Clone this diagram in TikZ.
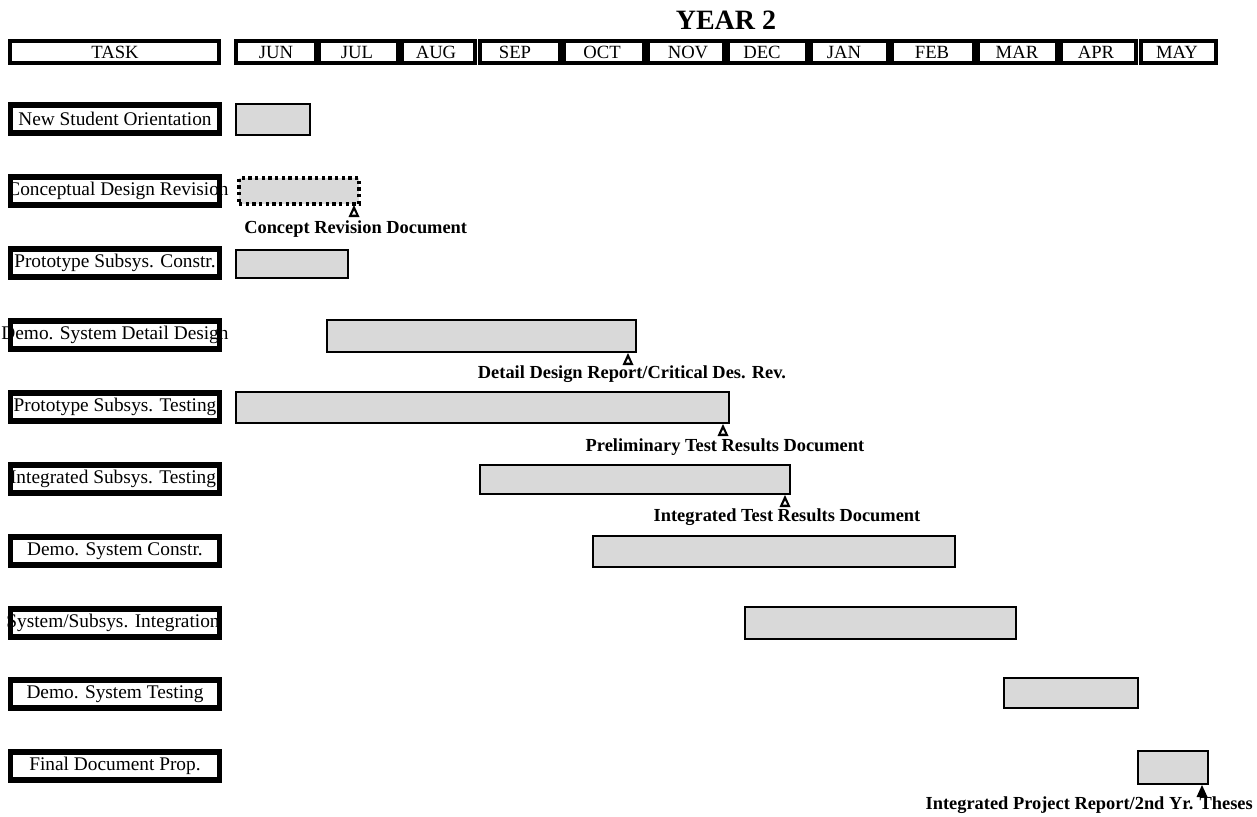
\documentclass[tikz,border=0pt]{standalone}
\usepackage{fontspec}
\setmainfont{Liberation Serif}
\usetikzlibrary{calc}
\begin{document}
\begin{tikzpicture}[x=0.75pt,y=-0.75pt,
  hdrbox/.style={draw=black,line width=2.4pt},
  hdrsep/.style={draw=black,line width=5.5pt},
  hdrtext/.style={font=\fontsize{14}{14}\selectfont,inner sep=0pt},
  yeartext/.style={font=\fontsize{21}{21}\selectfont\bfseries,inner sep=0pt},
  taskfill/.style={fill=white,inner sep=0pt,outer sep=0pt,minimum width=209*0.75pt,minimum height=28*0.75pt},
  taskframe/.style={draw=black,line width=4.2pt},
  tasktext/.style={font=\fontsize{14.5}{14.5}\selectfont,inner sep=0pt},
  barst/.style={draw=black,fill=black!15,line width=2pt,inner sep=0pt,outer sep=0pt},
  dotbar/.style={draw=black,fill=black!15,line width=2.4pt,dash pattern=on 2.4pt off 2.6pt,inner sep=0pt,outer sep=0pt},
  mslabel/.style={font=\fontsize{13.8}{13.8}\selectfont\bfseries,inner sep=0pt}
]
\useasboundingbox (0,0) rectangle (1257,817);

% ---------- title ----------
\node[yeartext] (year) at (726,20) {YEAR 2};

% ---------- header row ----------
\def\hdrT{41}\def\hdrB{63}\def\hdrM{52}
\draw[hdrbox] (10,\hdrT) rectangle (219,\hdrB);
\node[hdrtext] (htask) at (115,\hdrM) {TASK};
\draw[hdrbox] (236,\hdrT) rectangle (316,\hdrB);
\draw[hdrbox] (319,\hdrT) rectangle (475,\hdrB);
\draw[hdrbox] (480,\hdrT) rectangle (724,\hdrB);
\draw[hdrbox] (728,\hdrT) rectangle (888,\hdrB);
\draw[hdrbox] (892,\hdrT) rectangle (1136,\hdrB);
\draw[hdrbox] (1141,\hdrT) rectangle (1216,\hdrB);
\draw[hdrsep] (400,\hdrT) -- (400,\hdrB);
\draw[hdrsep] (562,\hdrT) -- (562,\hdrB);
\draw[hdrsep] (646,\hdrT) -- (646,\hdrB);
\draw[hdrsep] (809,\hdrT) -- (809,\hdrB);
\draw[hdrsep] (976,\hdrT) -- (976,\hdrB);
\draw[hdrsep] (1059,\hdrT) -- (1059,\hdrB);
\node[hdrtext] (hjun) at (276,\hdrM) {JUN};
\node[hdrtext] (hjul) at (357,\hdrM) {JUL};
\node[hdrtext] (haug) at (436,\hdrM) {AUG};
\node[hdrtext] (hsep) at (515,\hdrM) {SEP};
\node[hdrtext] (hoct) at (602,\hdrM) {OCT};
\node[hdrtext] (hnov) at (688,\hdrM) {NOV};
\node[hdrtext] (hdec) at (762,\hdrM) {DEC};
\node[hdrtext] (hjan) at (844,\hdrM) {JAN};
\node[hdrtext] (hfeb) at (932,\hdrM) {FEB};
\node[hdrtext] (hmar) at (1017,\hdrM) {MAR};
\node[hdrtext] (hapr) at (1096,\hdrM) {APR};
\node[hdrtext] (hmay) at (1177,\hdrM) {MAY};

% ---------- task boxes ----------
\foreach \n/\yy/\dx/\txt in {
  1/119/0/{New Student Orientation},
  2/191/3/{Conceptual Design Revision},
  3/263/0/{Prototype Subsys. Constr.},
  4/335/0/{Demo. System Detail Design},
  5/407/0/{Prototype Subsys. Testing},
  6/479/-2/{Integrated Subsys. Testing},
  7/551/0/{Demo. System Constr.},
  8/623/-2/{System/Subsys. Integration},
  9/694/0/{Demo. System Testing},
  10/766/0/{Final Document Prop.}}{
  \node[taskfill] (t\n) at (115,\yy) {};
  \node[tasktext] (tt\n) at ($(t\n)+(\dx,0)$) {\txt};
  \draw[taskframe] (t\n.north west) rectangle (t\n.south east);
}

% ---------- bars ----------
\newcommand{\gbar}[6]{\node[#6,minimum width={(#3-#2)*0.75pt},minimum height={(#5-#4)*0.75pt}] (#1) at ({(#2+#3)/2},{(#4+#5)/2}) {};}
\gbar{b1}{236}{310}{104}{135}{barst}
\gbar{b2}{239}{359}{178}{204}{dotbar}
\gbar{b3}{236}{348}{250}{278}{barst}
\gbar{b4}{327}{636}{320}{352}{barst}
\gbar{b5}{236}{729}{392}{423}{barst}
\gbar{b6}{480}{790}{465}{494}{barst}
\gbar{b7}{593}{955}{536}{567}{barst}
\gbar{b8}{745}{1016}{607}{639}{barst}
\gbar{b9}{1004}{1138}{678}{708}{barst}
\gbar{b10}{1138}{1208}{751}{784}{barst}

% ---------- milestones ----------
\newcommand{\mile}[3]{%
  \coordinate (#1) at ($(#2.south east)+(#3,0)$);
  \fill[black] ($(#1)+(0,1)$) -- ++(5.5,12) -- ++(-11,0) -- cycle;
  \fill[white] ($(#1)+(0,6.5)$) -- ++(2,4) -- ++(-4,0) -- cycle;}
\mile{m2}{b2}{-5}
\mile{m4}{b4}{-8}
\mile{m5}{b5}{-6}
\mile{m6}{b6}{-5}
\coordinate (m10) at ($(b10.south east)+(-6,0)$);
\fill[black] ($(m10)+(0,1)$) -- ++(5.5,12) -- ++(-11,0) -- cycle;

% ---------- milestone labels ----------
\node[mslabel,anchor=west] (l2) at (244,229) {Concept Revision Document};
\node[mslabel] (l4) at (632,374) {Detail Design Report/Critical Des. Rev.};
\node[mslabel] (l5) at (725,447) {Preliminary Test Results Document};
\node[mslabel] (l6) at (787,517) {Integrated Test Results Document};
\node[mslabel,anchor=east] (l10) at (1253,805) {Integrated Project Report/2nd Yr. Theses};
\end{tikzpicture}
\end{document}
